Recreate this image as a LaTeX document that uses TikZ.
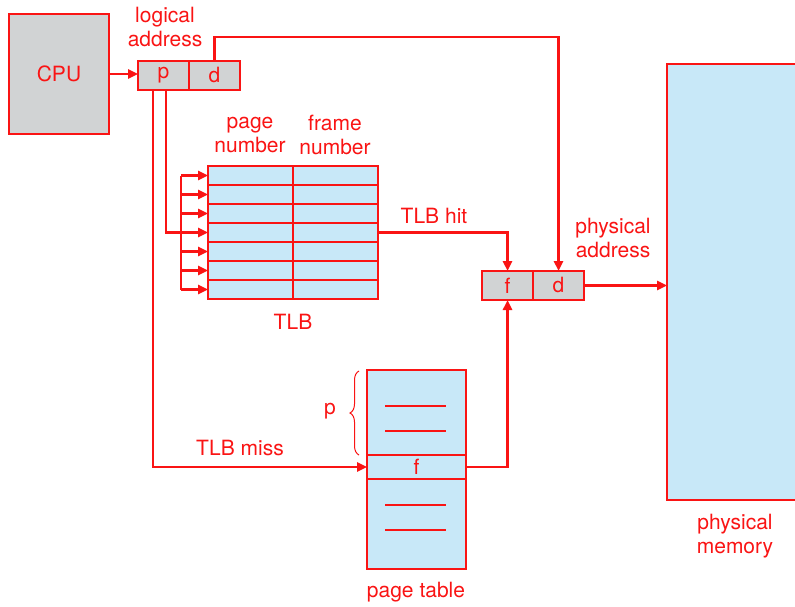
\documentclass[tikz,border=0pt]{standalone}
\usepackage{fontspec}
\setmainfont{TeX Gyre Heros}
\usetikzlibrary{arrows.meta,decorations.pathreplacing}
\definecolor{rd}{RGB}{250,20,20}
\definecolor{gr}{RGB}{209,211,212}
\definecolor{bl}{RGB}{200,232,248}
\begin{document}
\begin{tikzpicture}[x=1pt,y=-1pt,
  font=\fontsize{21}{24}\selectfont,
  box/.style={draw=rd, line width=1.4pt, inner sep=0pt, outer sep=0pt, anchor=north west, text=rd},
  lbl/.style={text=rd, align=center, inner sep=0pt},
  conn/.style={draw=rd, line width=2.4pt, -{Triangle[length=10pt,width=9pt]}},
  wire/.style={draw=rd, line width=2.4pt},
  tick/.style={draw=rd, line width=1.2pt}]
\clip (0,0) rectangle (795,607);
\fill[white] (0,0) rectangle (795,607);
% CPU
\node[box, fill=gr, minimum width=100pt, minimum height=120pt] (cpu) at (9,14) {CPU};
% logical address
\node[box, fill=gr, minimum width=51pt, minimum height=29pt] (lp) at (138,61) {p};
\node[box, fill=gr, minimum width=51pt, minimum height=29pt] (ld) at (189,61) {d};
\node[lbl] (lla) at (165,27) {logical\\address};
% physical address
\node[box, fill=gr, minimum width=51pt, minimum height=29pt] (pf) at (482,271) {f};
\node[box, fill=gr, minimum width=51pt, minimum height=29pt] (pd) at (533,271) {d};
\node[lbl] (lpa) at (613,238) {physical\\address};
% physical memory
\node[box, fill=bl, minimum width=140pt, minimum height=436pt] (mem) at (667,64) {};
\node[lbl] (lpm) at (735,536) {physical\\memory};
% TLB
\foreach \i in {0,...,6}{
  \node[box, fill=bl, minimum width=85pt, minimum height=19pt] (t\i l) at (208,{166+19*\i}) {};
  \node[box, fill=bl, minimum width=85pt, minimum height=19pt] (t\i r) at (293,{166+19*\i}) {};
}
\node[lbl] (lpn) at (250,135) {page\\number};
\node[lbl] (lfn) at (335,135) {frame\\number};
\node[lbl] (ltlb) at (293,322) {TLB};
% page table
\node[box, fill=bl, minimum width=99pt, minimum height=199pt] (pt) at (367,370) {};
\node[box, fill=bl, minimum width=99pt, minimum height=24pt] (ptf) at (367,455) {f};
\draw[tick] (385,406) -- (446,406);
\draw[tick] (385,431) -- (446,431);
\draw[tick] (385,505) -- (446,505);
\draw[tick] (385,530) -- (446,530);
\node[lbl] (lpt) at (416,592) {page table};
\draw[rd, line width=1pt, decorate, decoration={brace, amplitude=9pt}] (359,455) -- (359,371);
\node[lbl] (lp2) at (330,411) {p};
% connectors
\draw[conn] (cpu.east) -- (cpu.east -| lp.west);
\draw[conn] (ld.north) -- ++(0,-24) -| (pd.north);
\coordinate (pa) at (166,0);
\coordinate (pb) at (153,0);
\coordinate (sp) at (181,0);
\draw[conn] (lp.south -| pa) |- (t3l.west);
\draw[wire] (t0l.west -| sp) -- (t6l.west -| sp);
\foreach \i in {0,1,2,4,5,6}{
  \draw[conn] (t\i l.west -| sp) -- (t\i l.west);
}
\draw[conn] (lp.south -| pb) |- (ptf.west);
\node[lbl] (lmiss) at (240,448) {TLB miss};
\draw[conn] (t3r.east) -| (pf.north);
\node[lbl] (lhit) at (434,216) {TLB hit};
\draw[conn] (ptf.east) -| (pf.south);
\draw[conn] (pd.east) -- (pd.east -| mem.west);
\end{tikzpicture}
\end{document}
